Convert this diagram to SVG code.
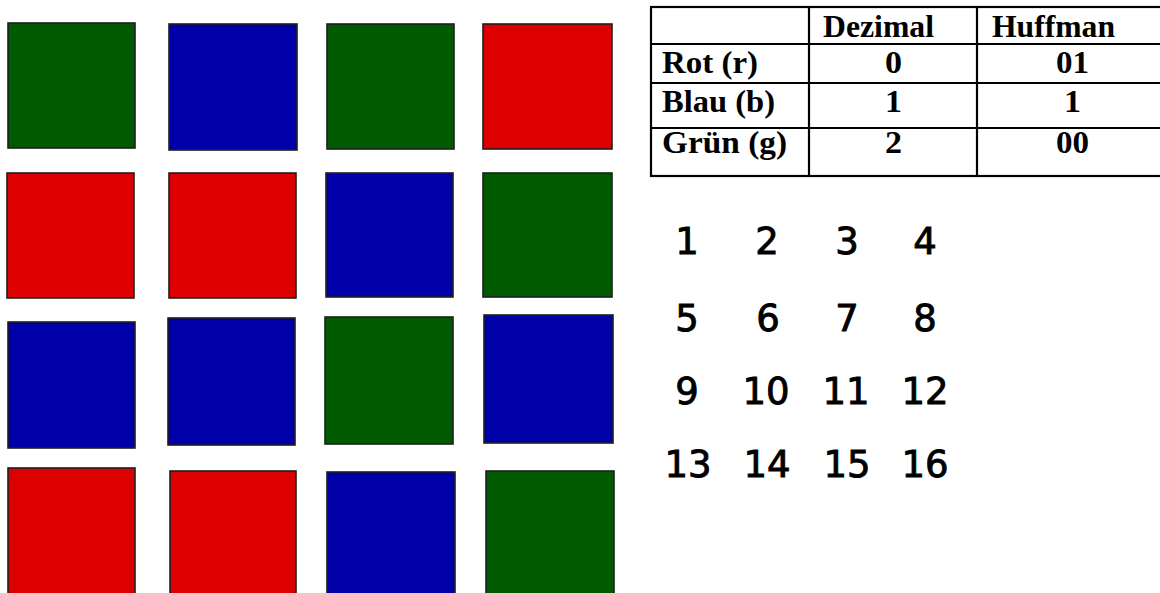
<svg xmlns="http://www.w3.org/2000/svg" width="1160" height="593" viewBox="0 0 1160 593">
<style>
.sq{stroke:#1e1e1e;stroke-width:1.6}
.g{fill:#005a00}
.b{fill:#0000a8}
.r{fill:#dc0000}
.tl{stroke:#000;stroke-width:2.2;fill:none}
.tt{font-family:"Liberation Serif","Times New Roman",serif;font-weight:bold;font-size:30.5px;fill:#000}
.n{font-family:"DejaVu Sans",sans-serif;font-size:37px;fill:#000;stroke:#000;stroke-width:0.9;text-anchor:middle}
</style>
<rect width="1160" height="593" fill="#fff"/>
<g id="squares">
<rect id="s1" class="sq g" x="8" y="23" width="127" height="125"/>
<rect id="s2" class="sq b" x="169" y="24" width="128" height="126"/>
<rect id="s3" class="sq g" x="327" y="24" width="127" height="125"/>
<rect id="s4" class="sq r" x="483" y="24" width="129" height="125"/>
<rect id="s5" class="sq r" x="7" y="173" width="127" height="125"/>
<rect id="s6" class="sq r" x="169" y="173" width="127" height="125"/>
<rect id="s7" class="sq b" x="326" y="173" width="127" height="124"/>
<rect id="s8" class="sq g" x="483" y="173" width="129" height="124"/>
<rect id="s9" class="sq b" x="8" y="322" width="127" height="126"/>
<rect id="s10" class="sq b" x="168" y="318" width="127" height="127"/>
<rect id="s11" class="sq g" x="325" y="317" width="128" height="127"/>
<rect id="s12" class="sq b" x="484" y="315" width="129" height="128"/>
<rect id="s13" class="sq r" x="8" y="468" width="127" height="135"/>
<rect id="s14" class="sq r" x="170" y="471" width="126" height="132"/>
<rect id="s15" class="sq b" x="327" y="472" width="128" height="131"/>
<rect id="s16" class="sq g" x="486" y="471" width="128" height="132"/>
</g>
<g id="table">
<rect class="tl" x="651" y="7" width="516" height="169"/>
<line class="tl" x1="809" y1="7" x2="809" y2="176"/>
<line class="tl" x1="977" y1="7" x2="977" y2="176"/>
<line class="tl" x1="651" y1="44" x2="1167" y2="44"/>
<line class="tl" x1="651" y1="83" x2="1167" y2="83"/>
<line class="tl" x1="651" y1="128" x2="1167" y2="128"/>
<text class="tt" x="823" y="37" textLength="111" lengthAdjust="spacingAndGlyphs">Dezimal</text>
<text class="tt" x="992" y="37" textLength="123" lengthAdjust="spacingAndGlyphs">Huffman</text>
<text class="tt" x="662" y="73" textLength="96" lengthAdjust="spacingAndGlyphs">Rot (r)</text>
<text class="tt" x="662" y="112" textLength="113" lengthAdjust="spacingAndGlyphs">Blau (b)</text>
<text class="tt" x="662" y="153" textLength="125" lengthAdjust="spacingAndGlyphs">Grün (g)</text>
<text class="tt" x="885" y="73" textLength="17" lengthAdjust="spacingAndGlyphs">0</text>
<text class="tt" x="885" y="112" textLength="17" lengthAdjust="spacingAndGlyphs">1</text>
<text class="tt" x="885" y="153" textLength="17" lengthAdjust="spacingAndGlyphs">2</text>
<text class="tt" x="1056" y="73" textLength="33" lengthAdjust="spacingAndGlyphs">01</text>
<text class="tt" x="1064" y="112" textLength="17" lengthAdjust="spacingAndGlyphs">1</text>
<text class="tt" x="1056" y="153" textLength="33" lengthAdjust="spacingAndGlyphs">00</text>
</g>
<g id="numbers">
<text class="n" x="687" y="254">1</text>
<text class="n" x="767" y="254">2</text>
<text class="n" x="847" y="254">3</text>
<text class="n" x="925" y="254">4</text>
<text class="n" x="687" y="331">5</text>
<text class="n" x="768" y="331">6</text>
<text class="n" x="847" y="331">7</text>
<text class="n" x="925" y="331">8</text>
<text class="n" x="687" y="404">9</text>
<text class="n" x="766" y="404">10</text>
<text class="n" x="846" y="404">11</text>
<text class="n" x="925" y="404">12</text>
<text class="n" x="688" y="477">13</text>
<text class="n" x="767" y="477">14</text>
<text class="n" x="847" y="477">15</text>
<text class="n" x="925" y="477">16</text>
</g>
</svg>
